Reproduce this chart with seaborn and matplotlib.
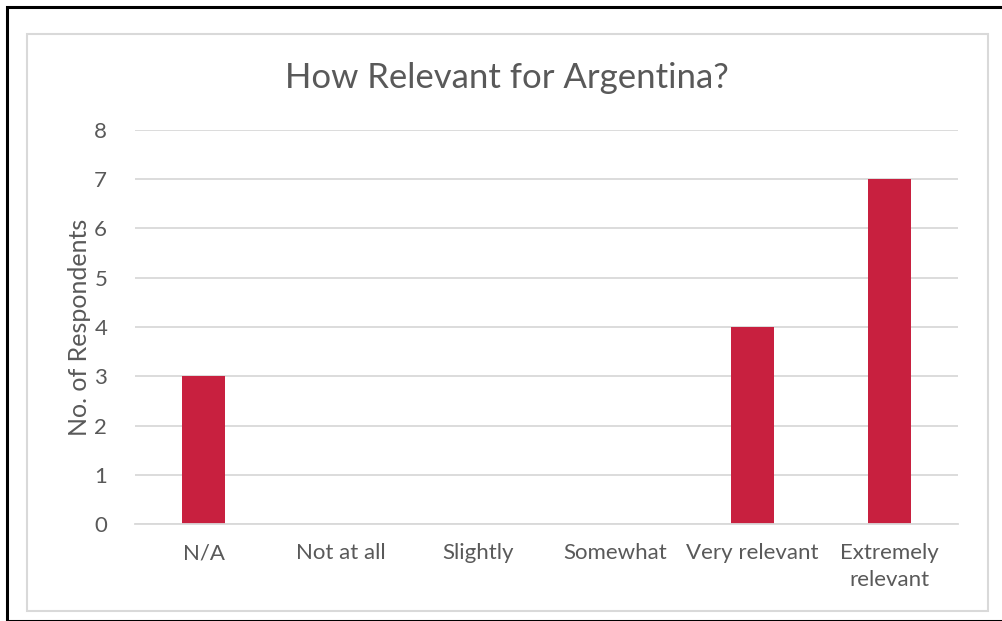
import matplotlib
matplotlib.use('Agg')
import matplotlib.pyplot as plt
import seaborn as sns
import pandas as pd
from matplotlib.patches import Rectangle

categories = ['N/A', 'Not at all', 'Slightly', 'Somewhat', 'Very relevant', 'Extremely\nrelevant']
respondents = [3, 0, 0, 0, 4, 7]

df = pd.DataFrame({'category': categories, 'count': respondents})

sns.set_theme(style='white')
plt.rcParams['font.family'] = ['Lato', 'DejaVu Sans']

W, H = 1002, 621
fig = plt.figure(figsize=(W / 100, H / 100), dpi=100)

# 外框 (黑) 與內框 (灰)
fig.patches.append(Rectangle((7 / W, 0), 1.2, 1 - 7 / H, transform=fig.transFigure,
                             fill=False, edgecolor='black', linewidth=2.2))
fig.patches.append(Rectangle((27 / W, 1 - 611 / H), (988 - 27) / W, (611 - 34) / H,
                             transform=fig.transFigure, fill=False,
                             edgecolor='#d9d9d9', linewidth=1.5))

ax = fig.add_axes([135 / W, 1 - 524 / H, (958 - 135) / W, (524 - 130) / H])
sns.barplot(data=df, x='category', y='count', color='#c8203f', width=0.31,
            saturation=1, linewidth=0, ax=ax)

ax.set_ylim(0, 8)
ax.set_yticks(range(0, 9))
ax.yaxis.grid(True, color='#d9d9d9', linewidth=1.3)
ax.set_axisbelow(True)
for s in ['top', 'right', 'left']:
    ax.spines[s].set_visible(False)
ax.spines['bottom'].set_color('#d9d9d9')
ax.spines['bottom'].set_linewidth(1.3)
ax.tick_params(axis='both', length=0, labelsize=16, colors='#595959')
ax.tick_params(axis='y', pad=20)
ax.tick_params(axis='x', pad=14)
for t in ax.get_xticklabels():
    t.set_linespacing(1.4)
ax.set_xlabel('')
ax.set_ylabel('No. of Respondents', fontsize=18, color='#595959', labelpad=2)
fig.text(507 / W, 1 - 78 / H, 'How Relevant for Argentina?', ha='center', va='center',
         fontsize=25, color='#595959')

fig.savefig('out.png', dpi=100)
